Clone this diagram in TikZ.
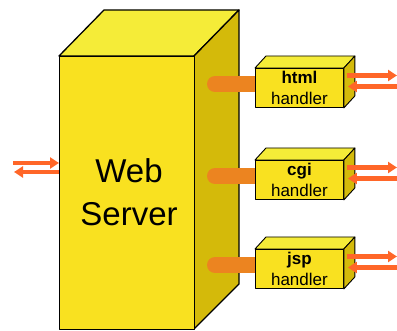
\documentclass[tikz,border=0pt]{standalone}
\usepackage{fontspec}
\setmainfont{Liberation Sans}
\usetikzlibrary{arrows.meta}
\definecolor{facefront}{RGB}{249,225,32}
\definecolor{facetop}{RGB}{245,236,56}
\definecolor{faceside}{RGB}{212,186,10}
\definecolor{pipeorange}{RGB}{236,132,32}
\definecolor{flow}{RGB}{255,102,40}
\pgfdeclarelayer{back}
\pgfdeclarelayer{pipes}
\pgfsetlayers{back,pipes,main}
\tikzset{
  edge/.style={draw=black, line width=1.3pt, line join=round},
  hedge/.style={draw=black, line width=0.9pt, line join=round},
  handlerbox/.style={hedge, fill=facefront, minimum width=88pt, minimum height=39pt,
    inner sep=0pt, anchor=north west, align=center, font=\fontsize{17}{21}\selectfont},
  pipe/.style={draw=pipeorange, line width=16pt, line cap=round},
  flowarrow/.style={draw=flow, line width=4.5pt, -{Triangle[length=9pt,width=11pt]}},
}
% a small 3-D handler box: front face node plus top and side faces
\newcommand\drawhandler[3]{%
  \node[handlerbox] (#1) at (255,#2) {\textbf{#3}\\handler};
  \path[hedge, fill=facetop] (#1.north west) -- ++(11,-12)
    -- ([shift={(11,-12)}]#1.north east) -- (#1.north east) -- cycle;
  \path[hedge, fill=faceside] (#1.north east) -- ++(11,-12)
    -- ([shift={(11,-12)}]#1.south east) -- (#1.south east) -- cycle;
  \coordinate (#1-out) at (397,#2+7.5);
  \coordinate (#1-in) at (397,#2+18.5);
  \draw[flowarrow] ([shift={(3,7.5)}]#1.north east) -- (#1-out);
  \draw[flowarrow] (#1-in) -- ([shift={(4,18.5)}]#1.north east);
  \begin{pgfonlayer}{pipes}
    \coordinate (#1-pipe) at (215,#2+16);
    \draw[pipe] (#1-pipe) -- (#1.west |- #1-pipe);
  \end{pgfonlayer}
}
\begin{document}
\begin{tikzpicture}[x=1pt,y=-1pt]
\useasboundingbox (0,0) rectangle (397,331);
% the server block
\begin{pgfonlayer}{back}
  \path[edge, fill=facetop] (59,56) -- (104,10) -- (239,10) -- (194,56) -- cycle;
  \path[edge, fill=faceside] (194,56) -- (239,10) -- (239,284) -- (194,329) -- cycle;
  \node[edge, fill=facefront, minimum width=135pt, minimum height=273pt, inner sep=0pt,
    anchor=north west] (block) at (59,56) {};
  \node[font=\fontsize{33}{43}\selectfont, align=center] (server) at (129,192) {Web\\Server};
\end{pgfonlayer}
% request / response arrows on the server
\coordinate (req) at (13,163);
\coordinate (resp) at (14,172);
\draw[flowarrow] (req) -- (block.west |- req);
\draw[flowarrow] (block.west |- resp) -- (resp);
% handlers
\drawhandler{html}{68}{html}
\drawhandler{cgi}{160}{cgi}
\drawhandler{jsp}{249}{jsp}
\end{tikzpicture}
\end{document}
